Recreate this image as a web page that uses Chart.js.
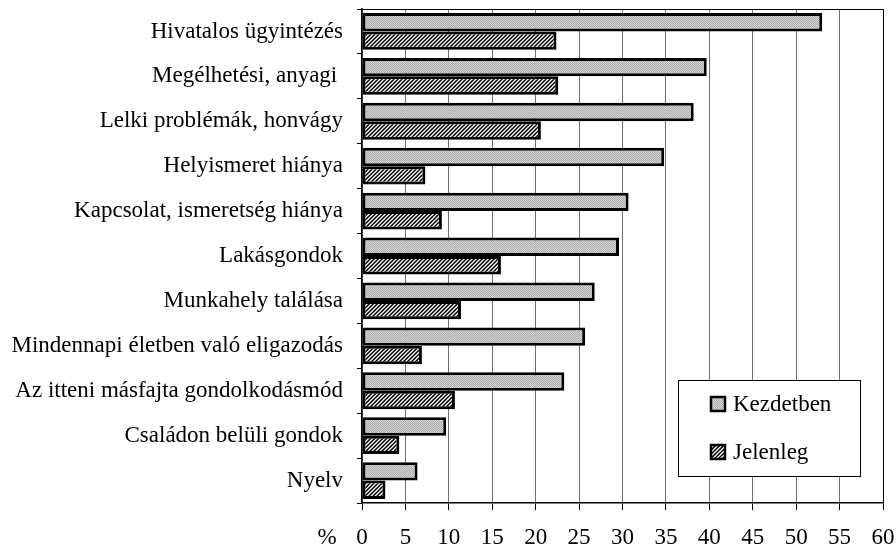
<!DOCTYPE html>
<html>
<head>
<meta charset="utf-8">
<script src="https://cdn.jsdelivr.net/npm/chart.js@4"></script>
<style>
    html, body { margin: 0; padding: 0; background: #fff; }
    #wrap { width: 896px; height: 549px; position: relative; }
</style>
</head>
<body>
<div id="wrap"><canvas id="chart"></canvas></div>
<script>
const categories = [
    'Hivatalos ügyintézés',
    'Megélhetési, anyagi ',
    'Lelki problémák, honvágy',
    'Helyismeret hiánya',
    'Kapcsolat, ismeretség hiánya',
    'Lakásgondok',
    'Munkahely találása',
    'Mindennapi életben való eligazodás',
    'Az itteni másfajta gondolkodásmód',
    'Családon belüli gondok',
    'Nyelv',
];
const kezdetben = [53.0, 39.7, 38.2, 34.8, 30.7, 29.6, 26.8, 25.7, 23.3, 9.7, 6.4];
const jelenleg = [22.4, 22.6, 20.6, 7.3, 9.2, 16.0, 11.4, 6.9, 10.7, 4.3, 2.7];
const seriesNames = ['Kezdetben', 'Jelenleg'];
const axisMin = 0;
const axisMax = 60;
const axisStep = 5;

const FONT = '"Liberation Serif", "Times New Roman", serif';
const FONT_SIZE = 23;

// small repeating fills: grey dots and dark diagonal hatch
function makePattern(size, paint) {
    const c = document.createElement('canvas');
    c.width = size;
    c.height = size;
    const ctx = c.getContext('2d');
    paint(ctx);
    return ctx.createPattern(c, 'repeat');
}

const dotFill = makePattern(2, (ctx) => {
    ctx.fillStyle = '#d6d6d6';
    ctx.fillRect(0, 0, 2, 2);
    ctx.fillStyle = '#ababab';
    ctx.fillRect(0, 0, 1, 1);
    ctx.fillRect(1, 1, 1, 1);
});

const hatchFill = makePattern(4, (ctx) => {
    const shades = ['#000000', '#4a4a4a', '#ffffff', '#9a9a9a'];
    for (let y = 0; y < 4; y++) {
        for (let x = 0; x < 4; x++) {
            ctx.fillStyle = shades[(x + y) % 4];
            ctx.fillRect(x, y, 1, 1);
        }
    }
});

const fills = [dotFill, hatchFill];

const frameAndLegend = {
    id: 'frameAndLegend',
    afterDraw(chart) {
        const { ctx, chartArea: a } = chart;
        ctx.save();

        // top and right edge of the plot
        ctx.strokeStyle = '#000';
        ctx.lineWidth = 1;
        ctx.beginPath();
        ctx.moveTo(a.left, a.top + 0.5);
        ctx.lineTo(a.right + 0.5, a.top + 0.5);
        ctx.lineTo(a.right + 0.5, a.bottom);
        ctx.stroke();

        // unit label left of the x ticks
        ctx.fillStyle = '#000';
        ctx.font = `${FONT_SIZE}px ${FONT}`;
        ctx.textAlign = 'center';
        ctx.textBaseline = 'middle';
        ctx.fillText('%', a.left - 35, a.bottom + 35);

        // legend box
        const bx = a.left + 316;
        const by = a.top + 371;
        const bw = 182;
        const bh = 96;
        ctx.fillStyle = '#fff';
        ctx.fillRect(bx, by, bw, bh);
        ctx.strokeStyle = '#000';
        ctx.lineWidth = 1;
        ctx.strokeRect(bx + 0.5, by + 0.5, bw, bh);

        ctx.textAlign = 'left';
        seriesNames.forEach((name, i) => {
            const cy = by + 24 + i * 48;
            ctx.fillStyle = fills[i];
            ctx.fillRect(bx + 32, cy - 8, 16, 16);
            ctx.lineWidth = 2.5;
            ctx.strokeRect(bx + 33, cy - 7, 14, 14);
            ctx.fillStyle = '#000';
            ctx.fillText(name, bx + 55, cy + 1);
        });

        ctx.restore();
    },
};

new Chart(document.getElementById('chart'), {
    type: 'bar',
    data: {
        labels: categories,
        datasets: [kezdetben, jelenleg].map((values, i) => ({
            label: seriesNames[i],
            data: values,
            backgroundColor: fills[i],
            borderColor: '#000',
            borderWidth: 3,
            borderSkipped: false,
            categoryPercentage: 0.82,
            barPercentage: 1,
        })),
    },
    options: {
        indexAxis: 'y',
        responsive: true,
        maintainAspectRatio: false,
        animation: false,
        layout: { padding: { top: 9, right: 13, left: 0, bottom: 0 } },
        plugins: {
            legend: { display: false },
            tooltip: { enabled: false },
        },
        scales: {
            x: {
                min: axisMin,
                max: axisMax,
                ticks: {
                    stepSize: axisStep,
                    color: '#000',
                    font: { family: FONT, size: FONT_SIZE },
                    padding: 14,
                },
                grid: {
                    color: '#707070',
                    lineWidth: 1,
                    tickColor: '#000',
                    tickLength: 7,
                },
                border: { display: true, color: '#000', width: 1.5 },
                afterFit(scale) {
                    scale.height = 46;
                    scale.paddingLeft = 0;
                    scale.paddingRight = 0;
                },
            },
            y: {
                ticks: {
                    color: '#000',
                    font: { family: FONT, size: FONT_SIZE },
                    padding: 14,
                },
                grid: {
                    drawOnChartArea: false,
                    drawTicks: true,
                    tickLength: 5,
                    tickColor: '#000',
                    offset: true,
                },
                border: { display: true, color: '#000', width: 1.5 },
                afterFit(scale) {
                    scale.width = 362;
                    scale.paddingTop = 0;
                    scale.paddingBottom = 0;
                },
            },
        },
    },
    plugins: [frameAndLegend],
});
</script>
</body>
</html>
